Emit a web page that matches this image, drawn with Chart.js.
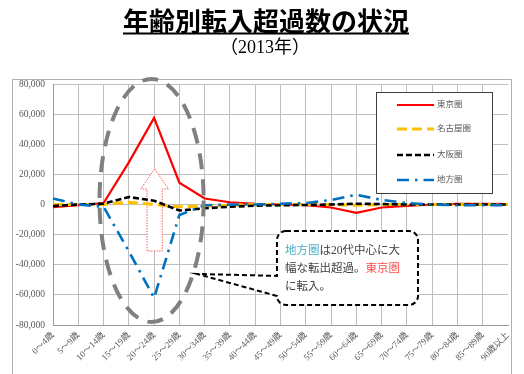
<!DOCTYPE html>
<html>
<head>
<meta charset="utf-8">
<script src="https://cdn.jsdelivr.net/npm/chart.js@4/dist/chart.umd.min.js"></script>
<style>
  html, body { margin: 0; padding: 0; background: #ffffff; }
  #wrap { width: 524px; height: 374px; }
</style>
</head>
<body>
<div id="wrap"><canvas id="chart" width="524" height="374"></canvas></div>
<script>
// Age groups (category axis)
const ageGroups = ['0～4歳', '5～9歳', '10～14歳', '15～19歳', '20～24歳', '25～29歳', '30～34歳',
  '35～39歳', '40～44歳', '45～49歳', '50～54歳', '55～59歳', '60～64歳', '65～69歳', '70～74歳',
  '75～79歳', '80～84歳', '85～89歳', '90歳以上'];

// Net in-migration (persons) by region, 2013
const tokyoArea   = [-1800, -500, 1000, 28000, 57500, 14500, 4000, 1500, 500, 0, -500, -2000, -5500, -2000, -1000, 0, 500, 500, 300];
const nagoyaArea  = [0, 0, 0, 1500, 0, -1500, -1000, -500, 0, 0, 0, 0, -500, 0, 0, 0, 0, 0, 0];
const osakaArea   = [-1000, 0, 500, 5000, 2500, -4000, -2500, -1500, -800, -500, -300, 0, 500, 300, 0, 0, 0, 0, 0];
const regionalArea = [4000, 0, -1500, -31000, -62000, -7000, -500, 0, 0, 500, 1000, 3000, 6500, 3000, 1000, 0, -500, -500, -500];

const seriesNames = ['東京圏', '名古屋圏', '大阪圏', '地方圏'];

// Value axis
const yMin = -80000, yMax = 80000, yStep = 20000;

const SERIF = '"Liberation Serif", "Noto Sans CJK JP", serif';
const SANS_JP = '"Noto Sans CJK JP", "Noto Sans", sans-serif';

const seriesStyles = [
  { color: '#ff0000', width: 2.2, dash: [] },
  { color: '#ffc000', width: 3.2, dash: [10, 5] },
  { color: '#000000', width: 2.6, dash: [6, 3] },
  { color: '#0070c0', width: 2.6, dash: [12, 6, 2.5, 6] }
];

const seriesData = [tokyoArea, nagoyaArea, osakaArea, regionalArea];

const datasets = seriesData.map((d, i) => ({
  label: seriesNames[i],
  data: d,
  borderColor: seriesStyles[i].color,
  borderWidth: seriesStyles[i].width,
  borderDash: seriesStyles[i].dash,
  pointRadius: 0,
  fill: false,
  tension: 0,
  order: 4 - i
}));

function segText(ctx, x, y, parts) {
  let cx = x;
  parts.forEach(([t, c]) => {
    ctx.fillStyle = c;
    ctx.fillText(t, cx, y);
    cx += ctx.measureText(t).width;
  });
}

const decorations = {
  id: 'decorations',
  beforeDatasetsDraw(chart) {
    const { ctx, scales: { x, y } } = chart;
    const px = i => x.getPixelForValue(i);
    const step = px(1) - px(0);
    // hollow upward arrow beneath the lines
    const tipX = px(4.02), tipY = y.getPixelForValue(23600);
    const headY = y.getPixelForValue(10300), baseY = y.getPixelForValue(-30900);
    const hw = 0.55 * step, sw = 0.30 * step;
    ctx.save();
    ctx.beginPath();
    ctx.moveTo(tipX, tipY);
    ctx.lineTo(tipX + hw, headY);
    ctx.lineTo(tipX + sw, headY);
    ctx.lineTo(tipX + sw, baseY);
    ctx.lineTo(tipX - sw, baseY);
    ctx.lineTo(tipX - sw, headY);
    ctx.lineTo(tipX - hw, headY);
    ctx.closePath();
    ctx.fillStyle = '#ffffff';
    ctx.fill();
    ctx.strokeStyle = '#ff5a5a';
    ctx.lineWidth = 1;
    ctx.setLineDash([1.5, 1.2]);
    ctx.stroke();
    ctx.restore();
  },
  afterDraw(chart) {
    const { ctx, chartArea: ca, scales: { x, y } } = chart;
    const px = i => x.getPixelForValue(i);
    const py = v => y.getPixelForValue(v);
    const step = px(1) - px(0);
    const unit = py(0) - py(1000);
    ctx.save();

    // outer frame
    ctx.strokeStyle = '#b0b0b0';
    ctx.lineWidth = 1;
    ctx.beginPath();
    ctx.moveTo(12.5, 374);
    ctx.lineTo(12.5, 79.5);
    ctx.lineTo(511.5, 79.5);
    ctx.lineTo(511.5, 374);
    ctx.stroke();

    // title
    const title = '年齢別転入超過数の状況';
    ctx.font = 'bold 26px ' + SANS_JP;
    ctx.fillStyle = '#000000';
    ctx.textAlign = 'center';
    ctx.textBaseline = 'middle';
    const tw = ctx.measureText(title).width;
    ctx.fillText(title, 266, 21);
    ctx.fillRect(266 - tw / 2, 32.5, tw, 2);
    ctx.font = '18px ' + SERIF;
    ctx.fillText('（2013年）', 265, 48);

    // dashed ellipse around the 20s
    ctx.beginPath();
    ctx.ellipse(px(3.9), py(2700), 2.06 * step, 80700 * unit / 1000, 0, 0, Math.PI * 2);
    ctx.strokeStyle = '#808080';
    ctx.lineWidth = 4;
    ctx.setLineDash([16, 10]);
    ctx.stroke();

    // callout
    const L = px(8.86), R = px(14.44), T = py(-17600), B = py(-66700), r = 9;
    const tip = [px(5.70), py(-46100)];
    const a1 = py(-47400), a2 = py(-60700);
    ctx.beginPath();
    ctx.moveTo(L + r, T);
    ctx.lineTo(R - r, T);
    ctx.arcTo(R, T, R, T + r, r);
    ctx.lineTo(R, B - r);
    ctx.arcTo(R, B, R - r, B, r);
    ctx.lineTo(L + r, B);
    ctx.arcTo(L, B, L, B - r, r);
    ctx.lineTo(L, a2);
    ctx.lineTo(tip[0], tip[1]);
    ctx.lineTo(L, a1);
    ctx.lineTo(L, T + r);
    ctx.arcTo(L, T, L + r, T, r);
    ctx.closePath();
    ctx.fillStyle = '#ffffff';
    ctx.fill();
    ctx.strokeStyle = '#000000';
    ctx.lineWidth = 2;
    ctx.setLineDash([5, 3]);
    ctx.stroke();
    ctx.setLineDash([]);

    ctx.font = '11.5px ' + SERIF;
    ctx.textAlign = 'left';
    ctx.textBaseline = 'middle';
    const tx = L + 8;
    segText(ctx, tx, T + 20, [['地方圏', '#4bacc6'], ['は20代中心に大', '#404040']]);
    segText(ctx, tx, T + 38, [['幅な転出超過。', '#404040'], ['東京圏', '#ff4d4d']]);
    segText(ctx, tx, T + 56, [['に転入。', '#404040']]);

    // legend
    const lx = ca.right - 132, ly = ca.top + 8, lw = 116, lh = 101;
    ctx.fillStyle = '#ffffff';
    ctx.fillRect(lx, ly, lw, lh);
    ctx.strokeStyle = '#404040';
    ctx.lineWidth = 1;
    ctx.strokeRect(lx + 0.5, ly + 0.5, lw, lh);
    ctx.font = '8.5px ' + SERIF;
    ctx.textBaseline = 'middle';
    const rows = [13, 37, 63, 88];
    seriesNames.forEach((name, i) => {
      const yy = ly + rows[i];
      const s = seriesStyles[i];
      ctx.beginPath();
      ctx.moveTo(lx + 21, yy);
      ctx.lineTo(lx + 58, yy);
      ctx.strokeStyle = s.color;
      ctx.lineWidth = s.width;
      ctx.setLineDash(s.dash);
      ctx.stroke();
      ctx.setLineDash([]);
      ctx.fillStyle = '#595959';
      ctx.fillText(name, lx + 61, yy);
    });
    ctx.restore();
  }
};

new Chart(document.getElementById('chart').getContext('2d'), {
  type: 'line',
  data: { labels: ageGroups, datasets },
  options: {
    responsive: false,
    animation: false,
    devicePixelRatio: 1,
    layout: { padding: { top: 84, right: 16, left: 0, bottom: 0 } },
    plugins: { legend: { display: false }, tooltip: { enabled: false }, title: { display: false } },
    scales: {
      x: {
        offset: false,
        grid: {
          color: ctx => (ctx.index === ageGroups.length - 1 ? 'rgba(0,0,0,0)' : '#bfbfbf'),
          drawTicks: false
        },
        border: { color: '#9a9a9a' },
        ticks: {
          autoSkip: false, maxRotation: 45, minRotation: 45, padding: 5,
          color: '#595959', font: { family: SERIF, size: 9 }
        },
        afterFit(s) { s.height = 49; }
      },
      y: {
        min: yMin, max: yMax,
        grid: { color: '#bfbfbf', drawTicks: false },
        border: { color: '#9a9a9a' },
        ticks: {
          stepSize: yStep, padding: 8, color: '#595959',
          font: { family: SERIF, size: 9.5 },
          callback: v => v.toLocaleString('en-US')
        },
        afterFit(s) { s.width = 53; }
      }
    }
  },
  plugins: [decorations]
});
</script>
</body>
</html>
